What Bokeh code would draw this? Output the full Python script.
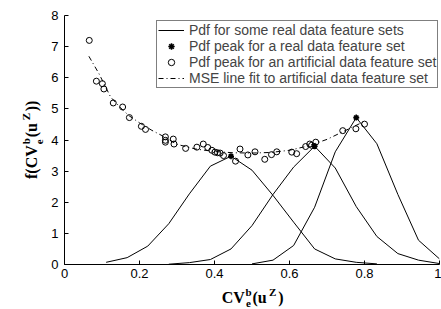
import math
from bokeh.plotting import figure
from bokeh.models import Legend, LegendItem, Range1d, FixedTicker
from bokeh.layouts import row, column
from bokeh.core.properties import value
from bokeh.embed import file_html
from bokeh.resources import INLINE

# ---------------- data ----------------
x_ticks = [0, 0.2, 0.4, 0.6, 0.8, 1]
x_tick_labels = ["0", "0.2", "0.4", "0.6", "0.8", "1"]
y_ticks = [0, 1, 2, 3, 4, 5, 6, 7, 8]

# Pdf curves of some real data feature sets
pdf1_x = [0.111, 0.167, 0.222, 0.278, 0.333, 0.389, 0.444, 0.500, 0.556, 0.611, 0.667, 0.722, 0.778, 0.833]
pdf1_y = [0.07, 0.22, 0.59, 1.31, 2.27, 3.16, 3.48, 3.03, 2.22, 1.36, 0.50, 0.18, 0.07, 0.02]

pdf2_x = [0.278, 0.333, 0.389, 0.444, 0.500, 0.556, 0.611, 0.667, 0.722, 0.778, 0.833, 0.889, 0.944, 1.000]
pdf2_y = [0.01, 0.06, 0.16, 0.50, 1.25, 2.25, 3.13, 3.80, 3.10, 1.86, 0.90, 0.35, 0.14, 0.03]

pdf3_x = [0.500, 0.556, 0.611, 0.667, 0.722, 0.778, 0.833, 0.889, 0.944, 1.000]
pdf3_y = [0.02, 0.14, 0.61, 1.84, 3.62, 4.72, 3.88, 2.25, 0.78, 0.18]

# Pdf peaks for real data feature sets
real_x = [0.444, 0.667, 0.778]
real_y = [3.48, 3.80, 4.72]

# Pdf peaks for artificial data feature sets
art_x = [0.066, 0.085, 0.101, 0.105, 0.130, 0.155, 0.173, 0.205, 0.216, 0.269, 0.269,
         0.269, 0.290, 0.292, 0.323, 0.353, 0.370, 0.382, 0.393, 0.401, 0.408, 0.415,
         0.424, 0.456, 0.468, 0.489, 0.508, 0.534, 0.552, 0.566, 0.606, 0.619, 0.643,
         0.654, 0.659, 0.670, 0.742, 0.777, 0.800]
art_y = [7.20, 5.89, 5.81, 5.64, 5.19, 5.06, 4.72, 4.44, 4.34, 4.10, 3.99,
         3.93, 4.03, 3.87, 3.73, 3.77, 3.87, 3.76, 3.67, 3.61, 3.59, 3.58,
         3.50, 3.32, 3.71, 3.52, 3.62, 3.38, 3.53, 3.62, 3.61, 3.56, 3.79,
         3.87, 3.83, 3.93, 4.30, 4.36, 4.51]

# MSE line fit to artificial data feature set
fit_x = [0.065, 0.092, 0.123, 0.150, 0.171, 0.200, 0.233, 0.268, 0.300, 0.350, 0.400,
         0.450, 0.500, 0.550, 0.600, 0.650, 0.700, 0.750, 0.800]
fit_y = [6.69, 6.13, 5.38, 5.03, 4.79, 4.55, 4.31, 4.09, 3.86, 3.71, 3.63,
         3.59, 3.58, 3.60, 3.67, 3.81, 4.02, 4.31, 4.60]

legend_labels = ["Pdf for some real data feature sets",
                 "Pdf peak for a real data feature set",
                 "Pdf peak for an artificial data feature set",
                 "MSE line fit to artificial data feature set"]

# ---------------- layout sizes ----------------
W, H = 441, 309
LEFT_W = 48          # strip holding the y-axis label
BOTTOM_H = 24        # strip holding the x-axis label
MAIN_W, MAIN_H = W - LEFT_W, H - BOTTOM_H
FRAME_L, FRAME_W = 62.0, 377.0   # page x of the frame's left edge and its width

# ---------------- main figure ----------------
p = figure(width=MAIN_W, height=MAIN_H, title=None, toolbar_location=None,
           output_backend="svg",
           x_range=Range1d(0, 1), y_range=Range1d(0, 8),
           min_border_left=int(FRAME_L) - LEFT_W, min_border_right=2,
           min_border_top=15, min_border_bottom=21)
p.outline_line_color = None
p.xgrid.visible = False
p.ygrid.visible = False
p.background_fill_color = "white"
p.border_fill_color = "white"

for ax in (p.xaxis, p.yaxis):
    ax.axis_line_color = "black"
    ax.axis_line_width = 1
    ax.major_tick_line_color = "black"
    ax.major_tick_in = 4
    ax.major_tick_out = 0
    ax.minor_tick_line_color = None
    ax.major_label_text_font = "Liberation Sans"
    ax.major_label_text_font_size = "13px"
    ax.major_label_text_color = "black"

p.xaxis.ticker = FixedTicker(ticks=x_ticks)
p.xaxis.major_label_overrides = {t: l for t, l in zip(x_ticks, x_tick_labels)}
p.xaxis.major_label_standoff = 4
p.yaxis.ticker = FixedTicker(ticks=y_ticks)
p.yaxis.major_label_standoff = 6

r_pdf = p.line(pdf1_x, pdf1_y, line_color="black", line_width=1)
p.line(pdf2_x, pdf2_y, line_color="black", line_width=1)
p.line(pdf3_x, pdf3_y, line_color="black", line_width=1)
r_fit = p.line(fit_x, fit_y, line_color="black", line_width=1, line_dash="5 3 1 3")
r_art = p.scatter(art_x, art_y, marker="circle", size=6, fill_alpha=0,
                  line_color="black", line_width=1)
r_real = p.scatter(real_x, real_y, marker="asterisk", size=6,
                   line_color="black", line_width=1.6)

legend = Legend(items=[LegendItem(label=legend_labels[0], renderers=[r_pdf]),
                       LegendItem(label=legend_labels[1], renderers=[r_real]),
                       LegendItem(label=legend_labels[2], renderers=[r_art]),
                       LegendItem(label=legend_labels[3], renderers=[r_fit])],
                location=(92, 176),
                border_line_color="black", border_line_width=1,
                background_fill_color="white", background_fill_alpha=1,
                padding=1, spacing=0, margin=0,
                glyph_height=16, glyph_width=26, label_height=16,
                label_standoff=5,
                label_text_font="Liberation Sans", label_text_font_size="14px")
p.add_layout(legend)


# ---------------- label strips (bold serif with sub/superscripts) ----------------
def strip(w, h, xr):
    f = figure(width=w, height=h, title=None, toolbar_location=None,
               output_backend="svg", x_range=xr, y_range=Range1d(0, h),
               x_axis_location=None, y_axis_location=None,
               min_border=0, min_border_left=0, min_border_right=0,
               min_border_top=0, min_border_bottom=0)
    f.outline_line_color = None
    f.xgrid.visible = False
    f.ygrid.visible = False
    f.background_fill_color = "white"
    f.border_fill_color = "white"
    return f


BIG, SMALL = 16, 11
LIFT = {BIG: 6.0, SMALL: 4.0}   # correction so that glyphs sit on the intended baseline


def put(f, txt, x, sy, size, angle=0.0):
    f.text(x=[x], y=[sy], text=[txt], angle=angle,
           text_font=value("Liberation Serif"), text_font_style="bold",
           text_font_size=value(f"{size}px"), text_color="black",
           text_align="left", text_baseline="alphabetic")


# x label: CV_e^b(u^Z). The strip's frame is aligned with the main frame,
# so its x coordinates use the same 0..1 scale as the main plot.
bx = strip(MAIN_W, BOTTOM_H, Range1d(0, 1))


def fx(px):
    return (px - FRAME_L) / FRAME_W


def xl(txt, px, py, size):
    put(bx, txt, fx(px), H - py + LIFT[size], size)


xl("CV", 220, 303, BIG)
xl("b", 244, 295.5, SMALL)
xl("e", 244.5, 306.5, SMALL)
xl("(u", 251, 303, BIG)
xl("Z", 267.5, 295.5, SMALL)
xl(")", 277, 303, BIG)

# y label: f(CV_e^b(u^Z))   (rotated, reading upward; strip occupies page x 0..LEFT_W)
ly = strip(LEFT_W, H, Range1d(0, LEFT_W))
a = math.pi / 2


def yl(txt, px, py, size):
    put(ly, txt, px - LIFT[size], H - py, size, a)


yl("f(CV", 37, 178.5, BIG)
yl("b", 29.5, 143.8, SMALL)
yl("e", 43, 143.8, SMALL)
yl("(u", 37, 136.8, BIG)
yl("Z", 29.5, 119.8, SMALL)
yl("))", 37, 110.8, BIG)

layout = row(ly, column(p, bx, spacing=0), spacing=0)

open("out.html", "w").write(file_html(layout, INLINE))
